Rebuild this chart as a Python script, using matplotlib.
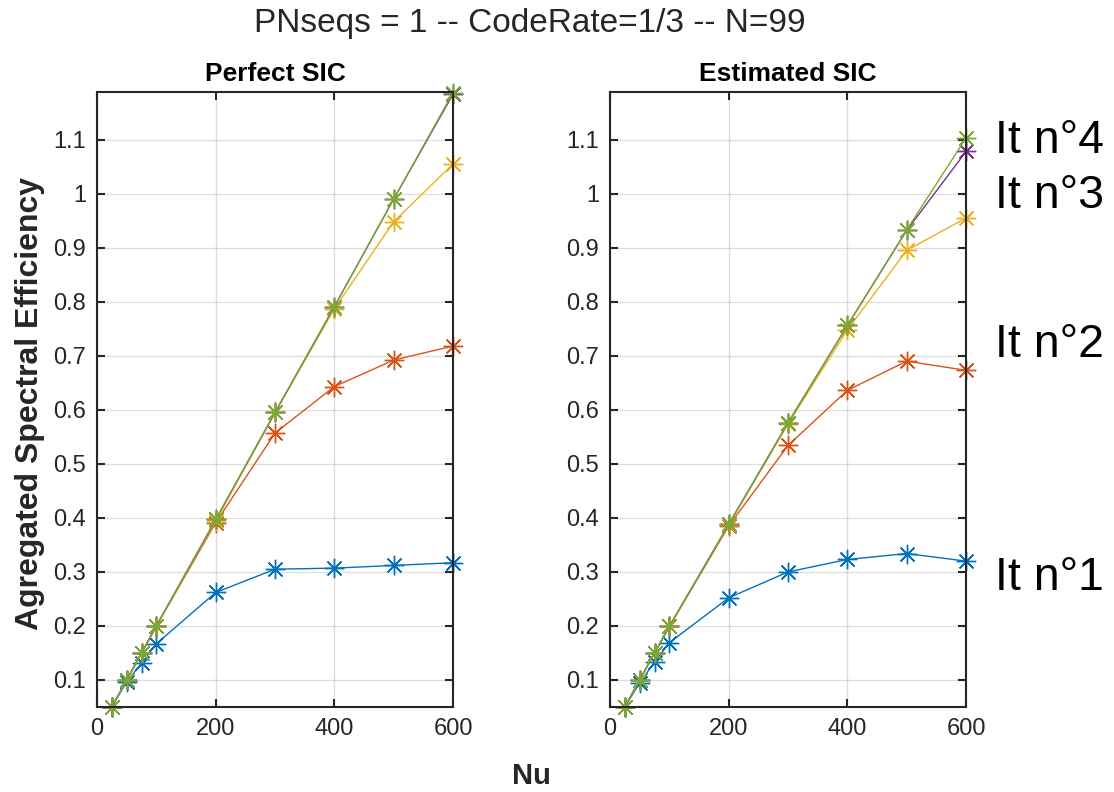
import numpy as np
import matplotlib
matplotlib.use('Agg')
import matplotlib.pyplot as plt

plt.rcParams['font.family'] = ['Liberation Sans', 'DejaVu Sans']

# number of users
nu = [25, 50, 75, 100, 200, 300, 400, 500, 600]

# perfect SIC, one list per iteration
perfect_it1 = [0.05, 0.097, 0.131, 0.167, 0.262, 0.305, 0.307, 0.312, 0.317]
perfect_it2 = [0.05, 0.100, 0.150, 0.200, 0.391, 0.557, 0.643, 0.692, 0.718]
perfect_it3 = [0.05, 0.100, 0.150, 0.200, 0.394, 0.595, 0.787, 0.948, 1.055]
perfect_it4 = [0.05, 0.100, 0.150, 0.200, 0.397, 0.595, 0.791, 0.990, 1.184]
perfect_it5 = [0.05, 0.100, 0.150, 0.200, 0.397, 0.595, 0.791, 0.990, 1.187]

# estimated SIC
estim_it1 = [0.05, 0.095, 0.133, 0.169, 0.252, 0.300, 0.323, 0.334, 0.320]
estim_it2 = [0.05, 0.100, 0.150, 0.199, 0.385, 0.534, 0.636, 0.690, 0.673]
estim_it3 = [0.05, 0.100, 0.150, 0.199, 0.387, 0.574, 0.748, 0.895, 0.955]
estim_it4 = [0.05, 0.100, 0.150, 0.199, 0.388, 0.576, 0.756, 0.932, 1.078]
estim_it5 = [0.05, 0.100, 0.150, 0.199, 0.388, 0.576, 0.756, 0.933, 1.103]

colors = ['#0072BD', '#D95319', '#EDB120', '#7E2F8E', '#77AC30']
iter_labels = ['It n°4', 'It n°3', 'It n°2', 'It n°1']
label_y = [1.098, 0.996, 0.719, 0.289]

# 8-armed asterisk like the classic '*' marker
asterisk = (8, 2, 0)

fig = plt.figure(figsize=(11.14, 7.92), dpi=100)
ax1 = fig.add_axes([0.0871, 0.1073, 0.3196, 0.7765])
ax2 = fig.add_axes([0.5476, 0.1073, 0.3196, 0.7765])

panels = [
    (ax1, 'Perfect SIC', [perfect_it1, perfect_it2, perfect_it3, perfect_it4, perfect_it5]),
    (ax2, 'Estimated SIC', [estim_it1, estim_it2, estim_it3, estim_it4, estim_it5]),
]

for ax, title, series in panels:
    for ys, c in zip(series, colors):
        ax.plot(nu, ys, color=c, marker=asterisk, markersize=14, linewidth=1.0,
                markeredgewidth=1.0, clip_on=False)
    ax.set_xlim(0, 600)
    ax.set_ylim(0.05, 1.188)
    ax.set_xticks([0, 200, 400, 600])
    ax.set_yticks([0.1, 0.2, 0.3, 0.4, 0.5, 0.6, 0.7, 0.8, 0.9, 1.0, 1.1])
    ax.set_yticklabels(['0.1', '0.2', '0.3', '0.4', '0.5', '0.6', '0.7',
                        '0.8', '0.9', '1', '1.1'])
    ax.grid(True, color='#262626', alpha=0.15, linewidth=1.0)
    ax.tick_params(direction='in', length=6, width=1.5, top=True, right=True,
                   labelsize=17, colors='#262626', pad=8)
    for sp in ax.spines.values():
        sp.set_linewidth(1.5)
        sp.set_color('#262626')
    ax.set_title(title, fontsize=19, fontweight='bold', pad=8)

for txt, y in zip(iter_labels, label_y):
    ax2.text(649, y, txt, fontsize=33.5, va='center', ha='left', clip_on=False)

fig.text(0.476, 0.970, 'PNseqs = 1 -- CodeRate=1/3 -- N=99', fontsize=24,
         ha='center', va='center', color='#262626')
fig.text(0.027, 0.491, 'Agregated Spectral Efficiency', fontsize=23,
         fontweight='bold', rotation=90, ha='center', va='center', color='#262626')
fig.text(0.477, 0.02, 'Nu', fontsize=21, fontweight='bold', ha='center',
         va='center', color='#262626')

fig.savefig('out.png', dpi=100)
